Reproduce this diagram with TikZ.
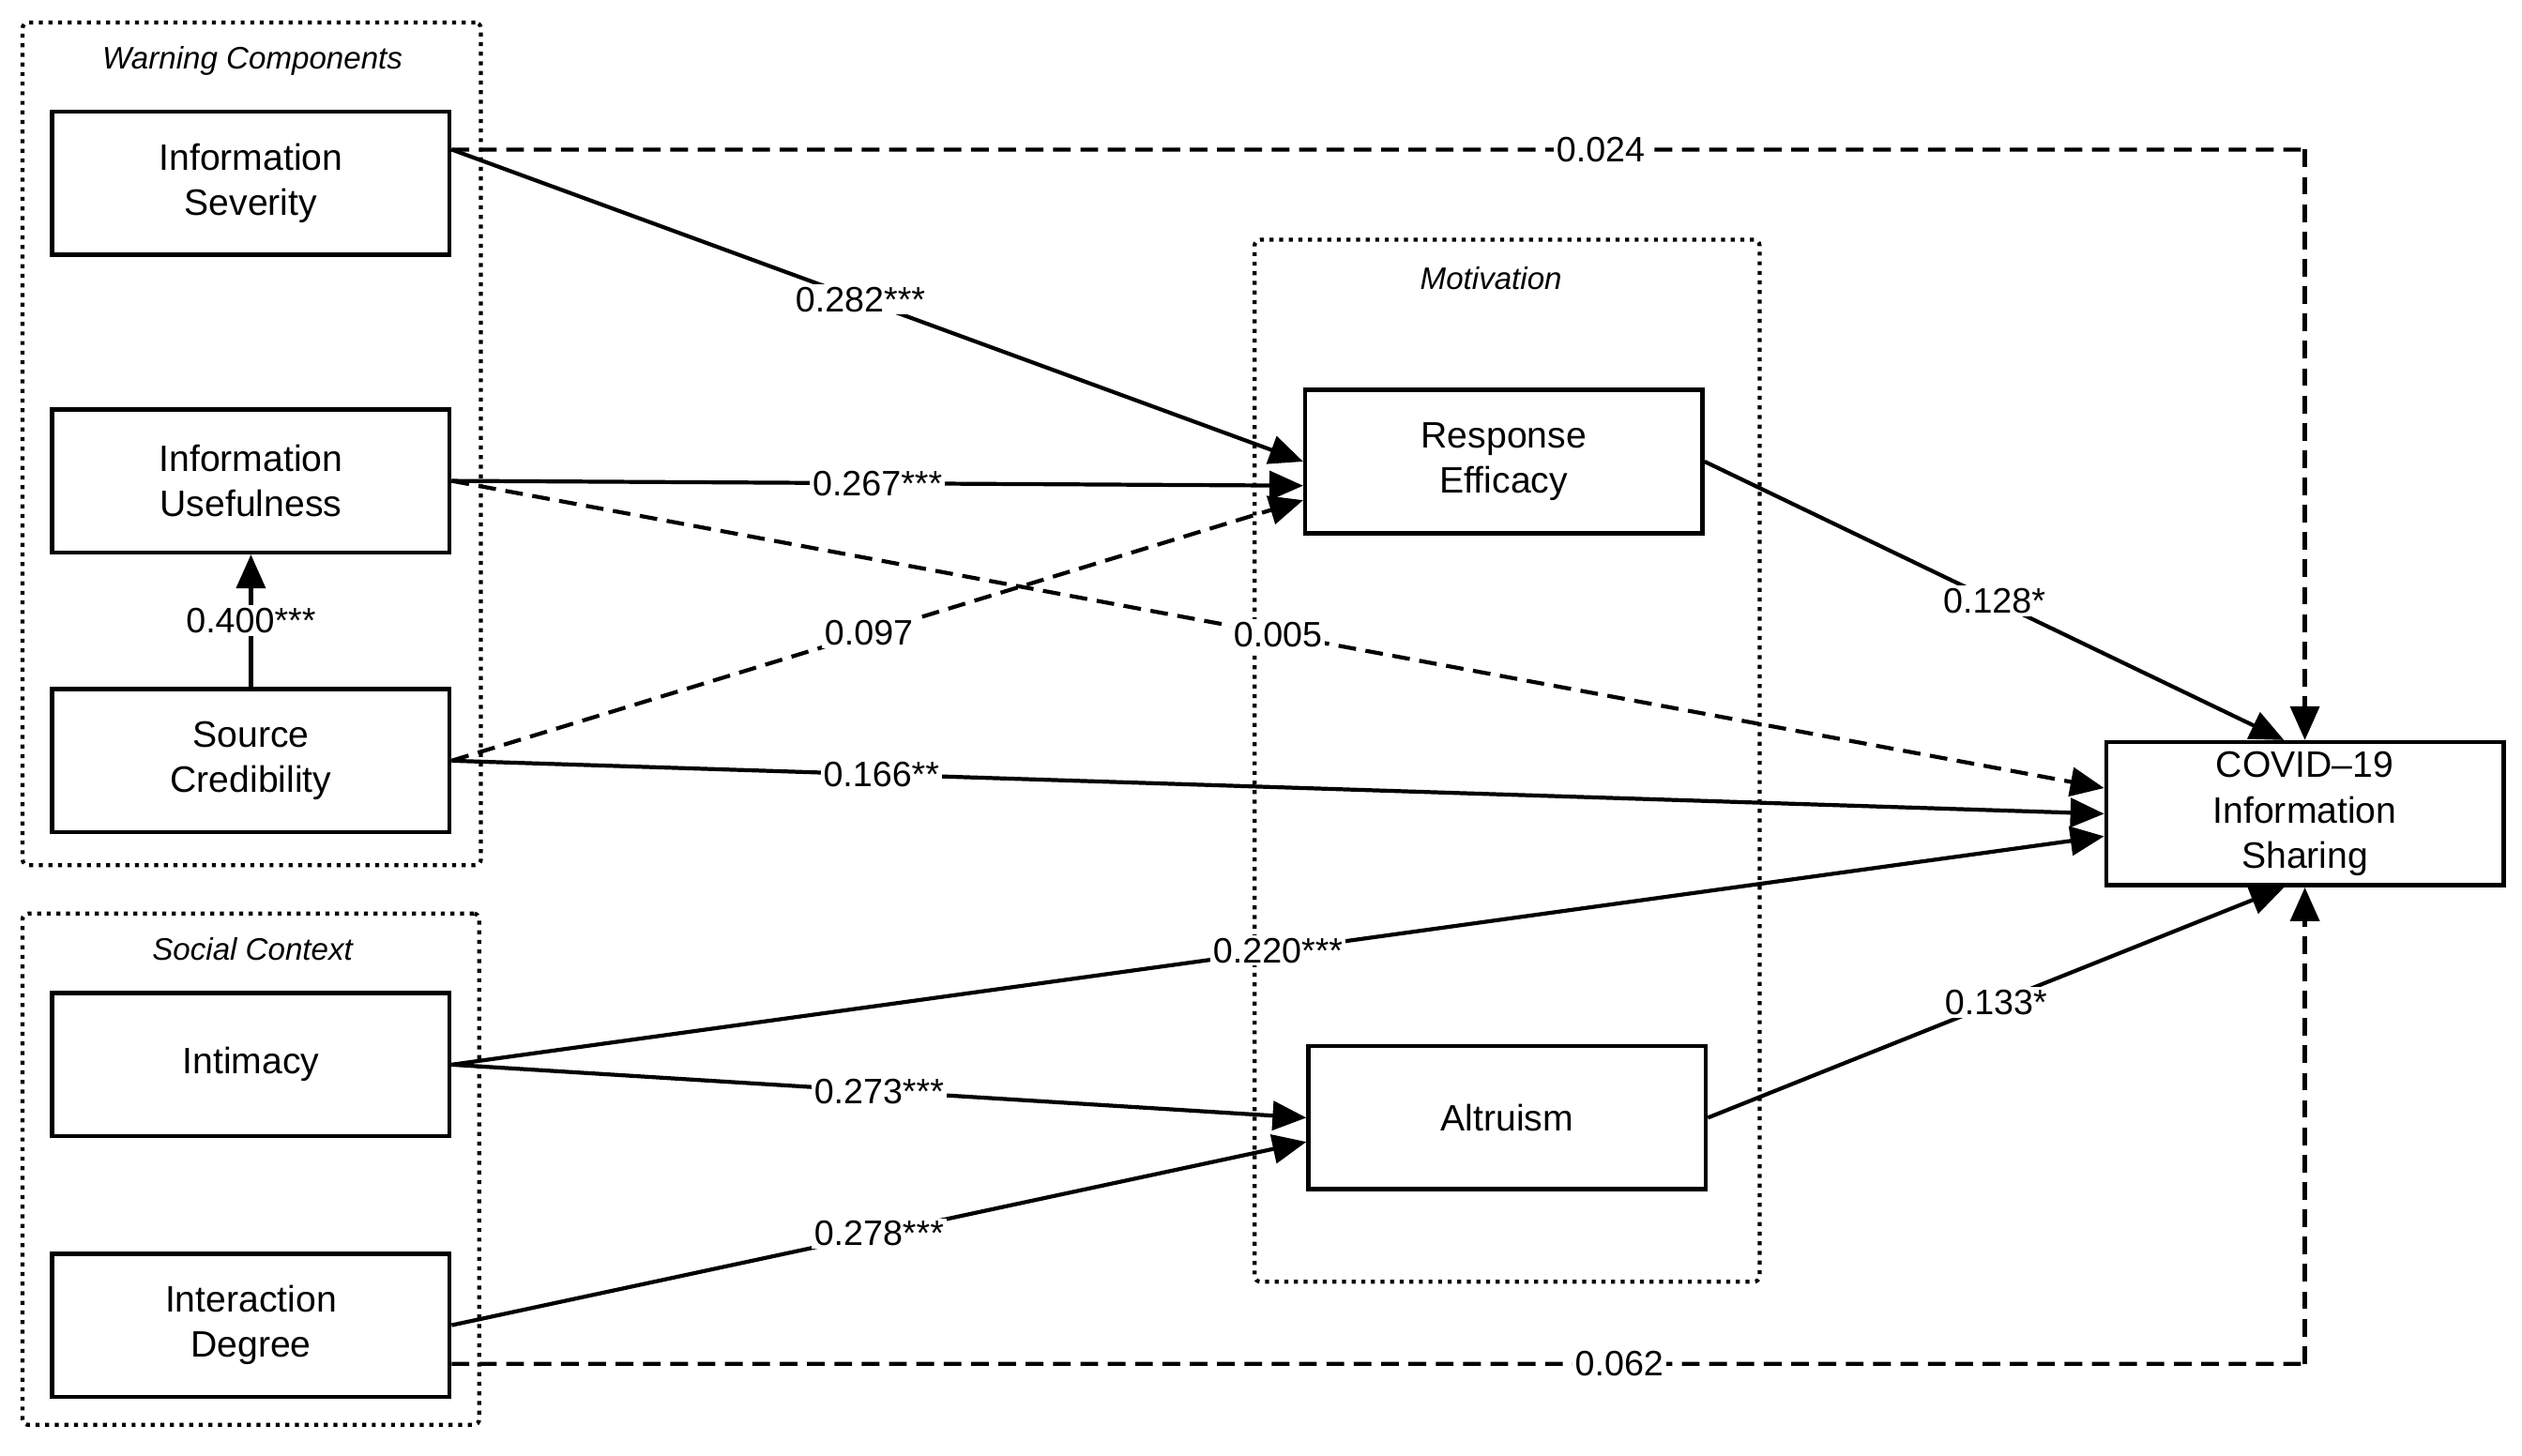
\documentclass[tikz,border=0pt]{standalone}
\usepackage{fontspec}
\setmainfont{Liberation Sans}
\usetikzlibrary{arrows.meta}
\begin{document}
\begin{tikzpicture}[x=0.02cm,y=-0.02cm,
% common options for blocks:
block/.style = {draw, line width=1.5pt, minimum width=4.94cm, minimum height=1.78cm,
            align=center, inner sep=0, font=\fontsize{13}{16}\selectfont},
% common options for the dotted groups:
group/.style = {draw, dotted, line width=1.4pt, rounded corners=2pt, inner sep=0},
title/.style = {font=\itshape\fontsize{11}{13}\selectfont},
lbl/.style = {fill=white, inner sep=1pt, font=\fontsize{12.5}{14}\selectfont},
path/.style = {line width=1.4pt, -{Triangle[length=0.42cm,width=0.36cm]}},
weak/.style = {path, dash pattern=on 0.22cm off 0.12cm}]
\useasboundingbox (0,0) rectangle (1568,905);
% groups
\node[group, minimum width=5.7cm, minimum height=10.48cm] (wc) at (156.5,276) {};
\node[title] (wct) at (157,38) {Warning Components};
\node[group, minimum width=5.68cm, minimum height=6.36cm] (sc) at (156,727) {};
\node[title] (sct) at (157,590) {Social Context};
\node[group, minimum width=6.28cm, minimum height=12.96cm] (mo) at (937,473) {};
\node[title] (mot) at (927,173) {Motivation};
% blocks
\node[block] (sev) at (156,114) {Information\\Severity};
\node[block] (use) at (156,299) {Information\\Usefulness};
\node[block] (cred) at (156,473) {Source\\Credibility};
\node[block] (intim) at (156,662) {Intimacy};
\node[block] (inter) at (156,824) {Interaction\\Degree};
\node[block] (resp) at (935,287) {Response\\Efficacy};
\node[block] (altr) at (937,695) {Altruism};
\node[block] (covid) at (1433,506) {COVID–19\\Information\\Sharing};
\coordinate (c1) at (1433,93);
\coordinate (c2) at (1433,848);
% paths
\draw[weak, -] ([yshift=0.42cm]sev.east) -- (c1) node[lbl, pos=0.62] {0.024};
\draw[weak] (c1) -- (covid.north);
\draw[path] ([yshift=0.42cm]sev.east) -- (resp.west) node[lbl, pos=0.48] {0.282***};
\draw[path] (use.east) -- ([yshift=-0.3cm]resp.west) node[lbl, pos=0.5] {0.267***};
\draw[weak] (use.east) -- ([yshift=0.32cm]covid.west) node[lbl, pos=0.5] {0.005};
\draw[weak] (cred.east) -- ([yshift=-0.48cm]resp.west) node[lbl, pos=0.49] {0.097};
\draw[path] (cred.east) -- (covid.west) node[lbl, pos=0.26] {0.166**};
\draw[path] (cred.north) -- (use.south) node[lbl, midway] {0.400***};
\draw[path] (intim.east) -- ([yshift=-0.28cm]covid.west) node[lbl, pos=0.5] {0.220***};
\draw[path] (intim.east) -- (altr.west) node[lbl, pos=0.5] {0.273***};
\draw[path] (inter.east) -- ([yshift=-0.3cm]altr.west) node[lbl, pos=0.5] {0.278***};
\draw[weak, -] ([yshift=-0.48cm]inter.east) -- (c2) node[lbl, pos=0.63] {0.062};
\draw[weak] (c2) -- (covid.south);
\draw[path] (resp.east) -- ([xshift=-0.26cm]covid.north) node[lbl, pos=0.5] {0.128*};
\draw[path] (altr.east) -- ([xshift=-0.26cm]covid.south) node[lbl, pos=0.5] {0.133*};
\end{tikzpicture}
\end{document}
